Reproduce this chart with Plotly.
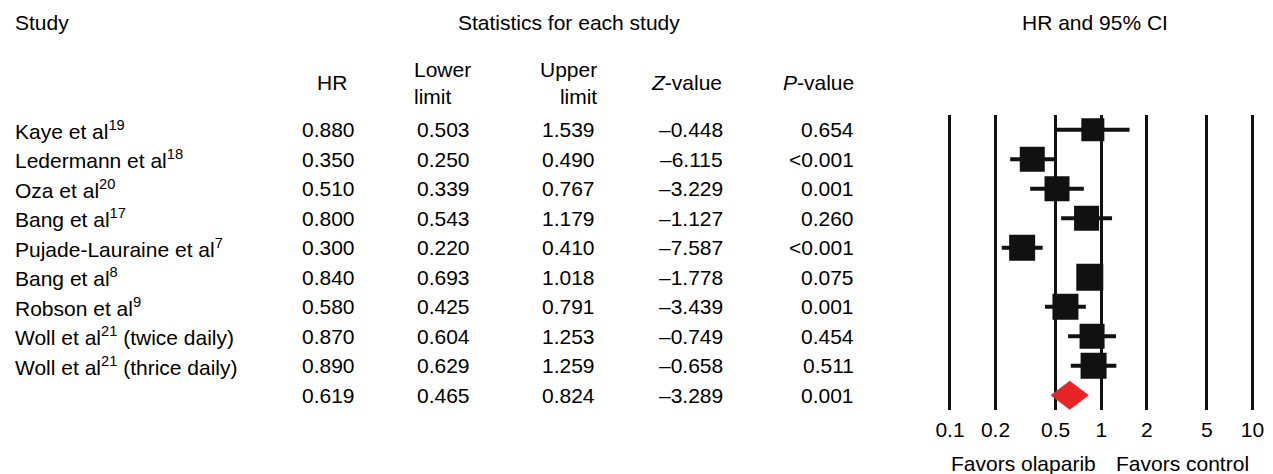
import plotly.graph_objects as go

# ---------------- data ----------------
studies = ["Kaye et al<sup>19</sup>", "Ledermann et al<sup>18</sup>", "Oza et al<sup>20</sup>",
           "Bang et al<sup>17</sup>", "Pujade-Lauraine et al<sup>7</sup>", "Bang et al<sup>8</sup>",
           "Robson et al<sup>9</sup>", "Woll et al<sup>21</sup> (twice daily)",
           "Woll et al<sup>21</sup> (thrice daily)"]
hr = [0.880, 0.350, 0.510, 0.800, 0.300, 0.840, 0.580, 0.870, 0.890]
lower = [0.503, 0.250, 0.339, 0.543, 0.220, 0.693, 0.425, 0.604, 0.629]
upper = [1.539, 0.490, 0.767, 1.179, 0.410, 1.018, 0.791, 1.253, 1.259]
zval = [-0.448, -6.115, -3.229, -1.127, -7.587, -1.778, -3.439, -0.749, -0.658]
pval = ["0.654", "<0.001", "0.001", "0.260", "<0.001", "0.075", "0.001", "0.454", "0.511"]
weights = [23, 25, 25, 25, 26, 27, 26, 25, 26]   # relative study weight (box side)

pooled_hr = 0.619
pooled_lower = 0.465
pooled_upper = 0.824
pooled_z = -3.289
pooled_p = "0.001"

tick_vals = [0.1, 0.2, 0.5, 1, 2, 5, 10]
tick_text = ["0.1", "0.2", "0.5", "1", "2", "5", "10"]

# ---------------- layout helpers ----------------
W, H = 1273, 474
FONT = "Liberation Sans, Arial, sans-serif"
FS = 21


def px(x):
    return x / W


def py(y):
    return 1 - y / H


n = len(studies)
rows = list(range(n))
pooled_row = n

fig = go.Figure()

# CI whiskers
wx, wy = [], []
for i in rows:
    wx += [lower[i], upper[i], None]
    wy += [i, i, None]
fig.add_trace(go.Scatter(x=wx, y=wy, mode="lines",
                         line=dict(color="#111111", width=4),
                         hoverinfo="skip", showlegend=False))

# HR boxes
fig.add_trace(go.Scatter(x=hr, y=rows, mode="markers",
                         marker=dict(symbol="square", size=weights, color="#111111",
                                     opacity=1, line=dict(width=0)),
                         showlegend=False))

# pooled diamond
h = 0.48
fig.add_trace(go.Scatter(
    x=[pooled_lower, pooled_hr, pooled_upper, pooled_hr, pooled_lower],
    y=[pooled_row, pooled_row - h, pooled_row, pooled_row + h, pooled_row],
    mode="lines", fill="toself", fillcolor="#e52528",
    line=dict(color="#e52528", width=0.5), showlegend=False, hoverinfo="skip"))

ann = []


def txt(text, x, y, xanchor="left", yref="paper", align="left"):
    ann.append(dict(text=text, x=x, y=y, xref="paper", yref=yref,
                    xanchor=xanchor, yanchor="middle", showarrow=False,
                    align=align, font=dict(family=FONT, size=FS, color="black")))


# headers
txt("Study", px(3), py(23))
txt("Statistics for each study", px(452), py(23))
txt("HR and 95% CI", px(1024), py(23))
txt("HR", px(326), py(83), xanchor="center")
txt("Lower<br>limit", px(407), py(83))
txt("Upper<br>limit", px(597), py(83), xanchor="right", align="right")
txt("<i>Z</i>-value", px(686), py(83), xanchor="center")
txt("<i>P</i>-value", px(819), py(83), xanchor="center")


def fmt(v, d=3):
    s = f"{v:.{d}f}"
    return s.replace("-", "\u2013")


col_right = [352, 468, 595, 725, 857]
for i in rows:
    txt(studies[i], px(3), i, yref="y")
    vals = [fmt(hr[i]), fmt(lower[i]), fmt(upper[i]), fmt(zval[i]), pval[i]]
    for v, cx in zip(vals, col_right):
        txt(v, px(cx), i, xanchor="right", yref="y")

pvals = [fmt(pooled_hr), fmt(pooled_lower), fmt(pooled_upper), fmt(pooled_z), pooled_p]
for v, cx in zip(pvals, col_right):
    txt(v, px(cx), pooled_row, xanchor="right", yref="y")

# favors labels
txt("Favors olaparib", px(1103), py(463), xanchor="right")
txt("Favors control", px(1119), py(463))

left_px = 948.1
right_px = 1263.9
fig.update_layout(
    width=W, height=H, autosize=False,
    margin=dict(l=0, r=0, t=0, b=0),
    paper_bgcolor="white", plot_bgcolor="white",
    showlegend=False,
    annotations=ann,
    font=dict(family=FONT, size=FS, color="black"),
    xaxis=dict(type="log", range=[-1.03, 1.03], domain=[px(left_px), px(right_px)],
               tickvals=tick_vals, ticktext=tick_text,
               showgrid=True, gridcolor="#111111", gridwidth=2.5,
               zeroline=False, showline=False,
               ticks="outside", ticklen=1, tickcolor="rgba(0,0,0,0)",
               tickfont=dict(family=FONT, size=FS, color="black")),
    yaxis=dict(range=[n + 0.5, -0.5], domain=[py(410), py(115)],
               visible=False, showgrid=False, zeroline=False),
)

fig.write_html("out.html", config={"displayModeBar": False},
               post_script="document.body.style.margin='0px';document.body.style.overflow='hidden';")
